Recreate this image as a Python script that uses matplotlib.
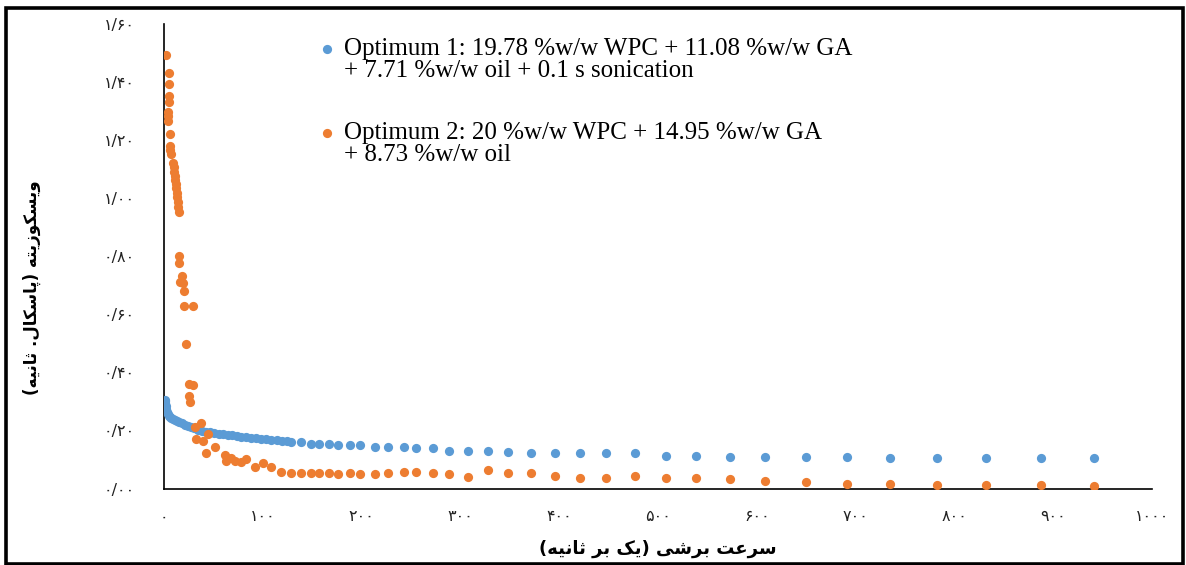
import matplotlib
matplotlib.use("Agg")
import matplotlib.pyplot as plt
from matplotlib.patches import Rectangle

# values (shear rate in 1/s, viscosity in Pa.s)
blue_head_x = [0.7, 1.0, 1.3, 1.7, 2.0, 2.4, 2.9, 3.7, 4.8, 5.8, 7.3, 8.8, 10.8, 12.9,
               15.4, 17.9, 20.9, 24.0, 27.0, 30.6, 34.1, 38.2, 42.2, 46.3, 50.8, 55.3,
               59.9, 64.5, 69.1, 73.6, 78.2, 82.7, 87.8, 92.9, 98.0, 103.0, 108.6,
               114.1, 119.7, 124.3]
blue_head_y = [0.300, 0.305, 0.295, 0.285, 0.275, 0.268, 0.262, 0.256, 0.251, 0.247,
               0.243, 0.240, 0.236, 0.232, 0.228, 0.224, 0.220, 0.216, 0.211, 0.207,
               0.203, 0.199, 0.196, 0.193, 0.191, 0.189, 0.187, 0.185, 0.183, 0.181,
               0.179, 0.177, 0.175, 0.173, 0.171, 0.169, 0.167, 0.166, 0.165, 0.163]

orange_head_x = [2.4, 4.8, 4.8, 4.8, 4.8, 4.3, 4.3, 4.3, 5.8, 6.3, 6.3, 6.8, 9.3, 9.8,
                 10.3, 10.8, 11.3, 11.8, 12.4, 12.9, 13.4, 13.9, 14.4, 15.2, 15.2, 15.2,
                 18.6, 15.9, 19.2, 20.3, 19.9, 29.4, 22.0, 25.3, 29.4, 25.3, 26.7, 31.1,
                 37.9, 44.3, 32.8, 39.5, 51.3, 42.9, 61.5, 68.3, 63.2, 71.6, 78.4, 83.4,
                 91.8, 100.3, 108.8, 118.9]
orange_head_y = [1.493, 1.430, 1.392, 1.353, 1.330, 1.298, 1.283, 1.267, 1.220, 1.180,
                 1.166, 1.152, 1.120, 1.108, 1.091, 1.076, 1.063, 1.049, 1.034, 1.019,
                 1.005, 0.988, 0.971, 0.953, 0.801, 0.778, 0.732, 0.712, 0.707, 0.681,
                 0.629, 0.629, 0.498, 0.360, 0.357, 0.319, 0.299, 0.213, 0.225, 0.188,
                 0.169, 0.165, 0.142, 0.123, 0.115, 0.104, 0.096, 0.096, 0.092, 0.100,
                 0.073, 0.089, 0.073, 0.058]

tail_x = [129.0, 139.1, 148.3, 157.0, 167.1, 176.2, 188.1, 198.2, 213.4, 226.8, 242.7,
          254.9, 272.4, 288.6, 307.8, 328.1, 348.4, 371.3, 395.6, 420.9, 447.3, 476.7,
          508.1, 538.5, 572.9, 608.3, 649.8, 691.3, 734.9, 782.5, 832.1, 887.8, 941.5]
blue_tail_y = [0.161, 0.161, 0.153, 0.153, 0.153, 0.149, 0.149, 0.149, 0.144, 0.144,
               0.144, 0.140, 0.140, 0.130, 0.130, 0.130, 0.125, 0.124, 0.124, 0.121,
               0.121, 0.121, 0.113, 0.113, 0.109, 0.109, 0.109, 0.109, 0.105, 0.105,
               0.105, 0.105, 0.105]
orange_tail_y = [0.054, 0.054, 0.054, 0.054, 0.054, 0.049, 0.054, 0.049, 0.049, 0.054,
                 0.058, 0.058, 0.052, 0.049, 0.039, 0.064, 0.052, 0.054, 0.044, 0.036,
                 0.036, 0.044, 0.036, 0.036, 0.032, 0.027, 0.024, 0.017, 0.017, 0.013,
                 0.013, 0.013, 0.008]

labels = ["Optimum 1: 19.78 %w/w WPC + 11.08 %w/w GA\n+ 7.71 %w/w oil + 0.1 s sonication",
          "Optimum 2: 20 %w/w WPC + 14.95 %w/w GA\n+ 8.73 %w/w oil"]

x_ticks = [0, 100, 200, 300, 400, 500, 600, 700, 800, 900, 1000]
x_tick_labels = ["۰", "۱۰۰", "۲۰۰", "۳۰۰", "۴۰۰", "۵۰۰", "۶۰۰", "۷۰۰", "۸۰۰", "۹۰۰", "۱۰۰۰"]
y_ticks = [0.0, 0.2, 0.4, 0.6, 0.8, 1.0, 1.2, 1.4, 1.6]
y_tick_labels = ["۰/۰۰", "۰/۲۰", "۰/۴۰", "۰/۶۰", "۰/۸۰", "۱/۰۰", "۱/۲۰", "۱/۴۰", "۱/۶۰"]

x_title = "سرعت برشی (یک بر ثانیه)"
y_title = "ویسکوزیته (پاسکال. ثانیه)"

# arabic presentation forms: isolated, final, initial, medial
FORMS = {
    "ا": ("\ufe8d", "\ufe8e"),
    "ب": ("\ufe8f", "\ufe90", "\ufe91", "\ufe92"),
    "پ": ("\ufb56", "\ufb57", "\ufb58", "\ufb59"),
    "ت": ("\ufe95", "\ufe96", "\ufe97", "\ufe98"),
    "ث": ("\ufe99", "\ufe9a", "\ufe9b", "\ufe9c"),
    "ر": ("\ufead", "\ufeae"),
    "ز": ("\ufeaf", "\ufeb0"),
    "س": ("\ufeb1", "\ufeb2", "\ufeb3", "\ufeb4"),
    "ش": ("\ufeb5", "\ufeb6", "\ufeb7", "\ufeb8"),
    "ع": ("\ufec9", "\ufeca", "\ufecb", "\ufecc"),
    "ک": ("\ufb8e", "\ufb8f", "\ufb90", "\ufb91"),
    "ل": ("\ufedd", "\ufede", "\ufedf", "\ufee0"),
    "ن": ("\ufee5", "\ufee6", "\ufee7", "\ufee8"),
    "ه": ("\ufee9", "\ufeea", "\ufeeb", "\ufeec"),
    "و": ("\ufeed", "\ufeee"),
    "ی": ("\ufbfc", "\ufbfd", "\ufbfe", "\ufbff"),
}


def shape(text):
    # matplotlib has no bidi / joining, so do it by hand
    out = []
    for i, ch in enumerate(text):
        if ch not in FORMS:
            out.append(ch)
            continue
        f = FORMS[ch]
        prev = text[i - 1] if i > 0 else ""
        nxt = text[i + 1] if i + 1 < len(text) else ""
        join_prev = prev in FORMS and len(FORMS[prev]) == 4
        join_next = len(f) == 4 and nxt in FORMS
        if join_prev and join_next:
            out.append(f[3])
        elif join_prev:
            out.append(f[1])
        elif join_next:
            out.append(f[2])
        else:
            out.append(f[0])
    mirror = {"(": ")", ")": "("}
    return "".join(mirror.get(c, c) for c in reversed(out))


fig = plt.figure(figsize=(11.86, 5.65), dpi=100)
ax = fig.add_axes([164 / 1186, 76.5 / 565, 988 / 1186, 464.5 / 565])

blue_x = blue_head_x + tail_x
blue_y = blue_head_y + blue_tail_y
orange_x = orange_head_x + tail_x
orange_y = orange_head_y + orange_tail_y

ax.scatter(blue_x, blue_y, s=44, color="#5B9BD5", linewidths=0, label=labels[0], zorder=3)
ax.scatter(orange_x, orange_y, s=44, color="#ED7D31", linewidths=0, label=labels[1], zorder=4)

ax.set_xlim(0, 1000)
ax.set_ylim(0, 1.6)
ax.set_xticks(x_ticks)
ax.set_xticklabels(x_tick_labels)
ax.set_yticks(y_ticks)
ax.set_yticklabels(y_tick_labels)
ax.tick_params(axis="both", length=0, labelsize=11.5, colors="#222222")
ax.tick_params(axis="x", pad=15)
ax.tick_params(axis="y", pad=21)
for lab in ax.get_xticklabels() + ax.get_yticklabels():
    lab.set_family("DejaVu Sans")

for side in ["top", "right"]:
    ax.spines[side].set_visible(False)
for side in ["left", "bottom"]:
    ax.spines[side].set_color("black")
    ax.spines[side].set_linewidth(1.2)

ax.set_xlabel(shape(x_title), fontsize=13, fontweight="bold", family="DejaVu Sans", va="center")
ax.set_ylabel(shape(y_title), fontsize=12, fontweight="bold", family="DejaVu Sans", va="center")
ax.xaxis.set_label_coords(0.5, -0.131)
ax.yaxis.set_label_coords(-0.134, 0.432)

leg = ax.legend(loc="upper left", bbox_to_anchor=(316 / 1186, 1 - 38 / 565),
                bbox_transform=fig.transFigure, frameon=False,
                prop={"family": "Liberation Serif", "size": 18},
                labelspacing=1.6, handletextpad=0.25, handlelength=0.85,
                borderpad=0, borderaxespad=0)
for t in leg.get_texts():
    t.set_linespacing(1.0)
# put the marker on the first line of each label
for col in leg._legend_handle_box.get_children():
    for row in col.get_children():
        row.align = "top"

fig.patches.append(Rectangle((6 / 1186, 1.5 / 565), 1176.5 / 1186, 556 / 565,
                             transform=fig.transFigure, fill=False,
                             edgecolor="black", linewidth=2.6))

fig.savefig("out.png", dpi=100)
